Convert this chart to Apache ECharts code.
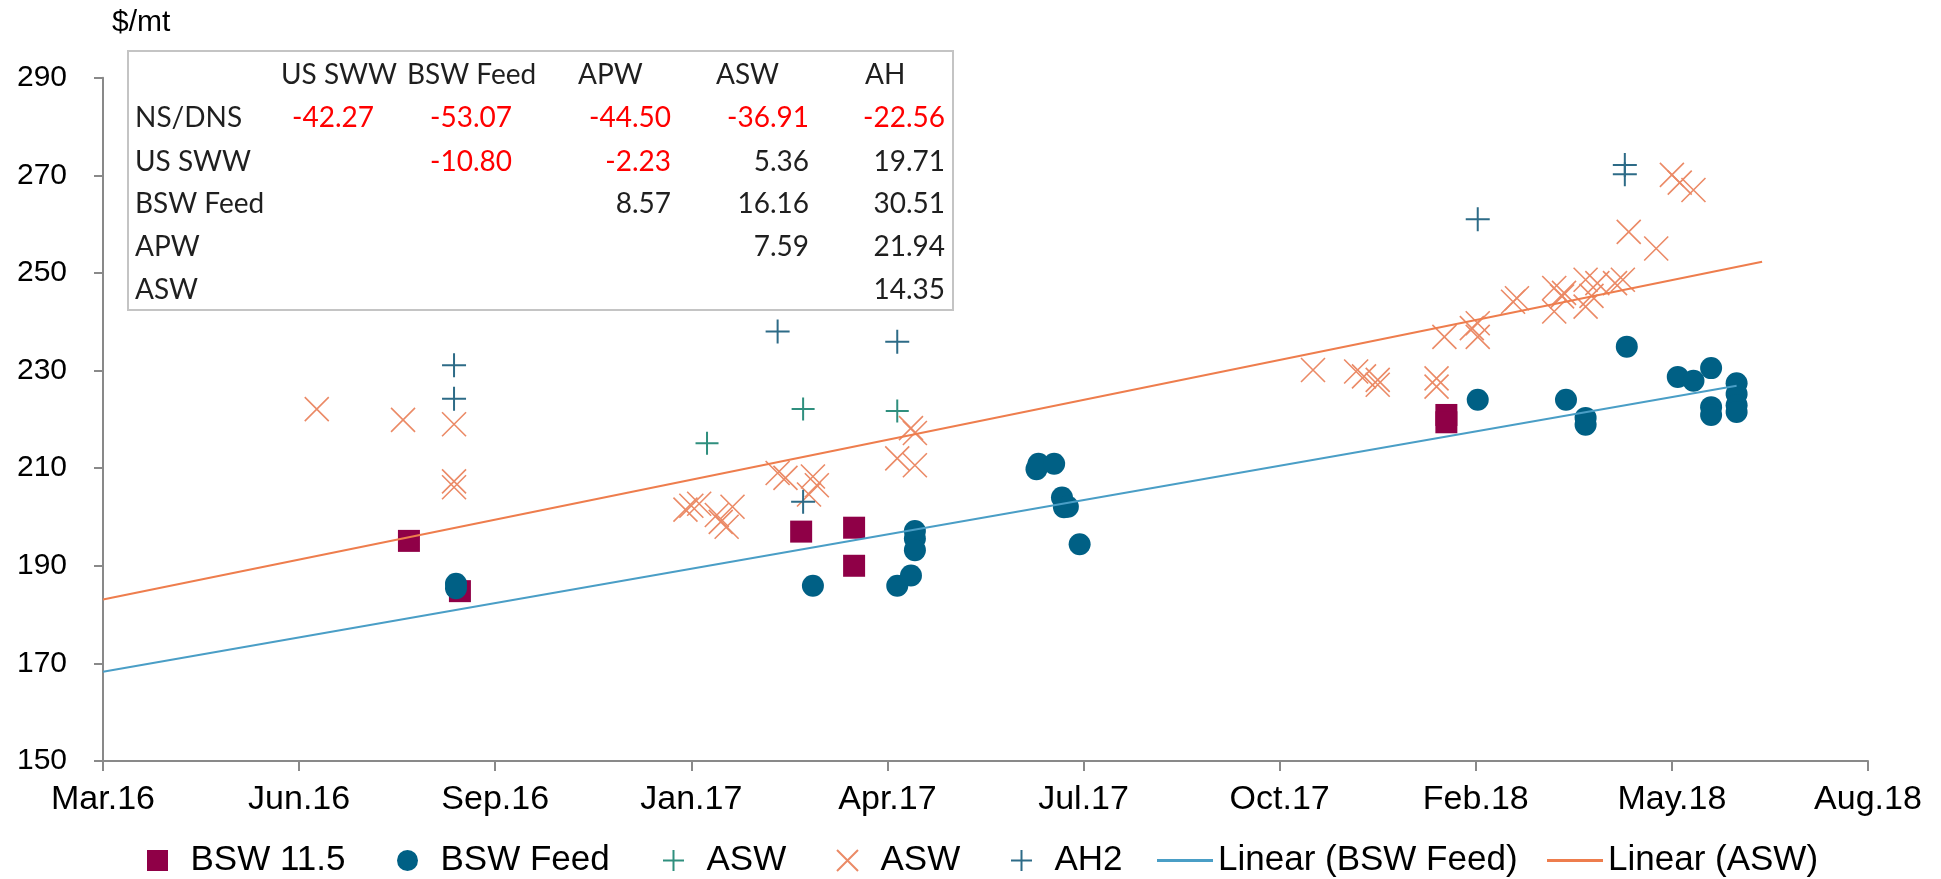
<!DOCTYPE html>
<html>
<head>
<meta charset="utf-8">
<script src="https://cdn.jsdelivr.net/npm/echarts@6/dist/echarts.min.js"></script>
<style>
  html, body { margin: 0; padding: 0; background: #fff; }
  #chart { width: 1941px; height: 879px; }
</style>
</head>
<body>
<div id="chart"></div>
<script>
// x values are days counted from the first axis tick (~10 Mar 2016), ticks every 100 days
var xTickLabels = ['Mar.16', 'Jun.16', 'Sep.16', 'Jan.17', 'Apr.17', 'Jul.17', 'Oct.17', 'Feb.18', 'May.18', 'Aug.18'];

var bsw115 = [[156, 195.1], [182, 184.8], [356, 197.0], [383, 197.8], [383, 190.0], [685, 220.9], [685, 219.4]];

var bswFeed = [
  [180, 186.3], [180, 185.4], [362, 185.9], [405, 185.9], [412, 188.0],
  [414, 197.1], [414, 195.6], [414, 193.2],
  [476, 209.8], [477, 210.9], [485, 210.9], [489, 204.0], [490, 202.0], [492, 202.1], [498, 194.4],
  [701, 224.0], [746, 224.0], [756, 220.3], [756, 218.9], [777, 234.9],
  [803, 228.7], [811, 227.9], [820, 230.5], [820, 222.5], [820, 220.9],
  [833, 227.4], [833, 225.2], [833, 222.9], [833, 221.5]
];

var aswPlus = [[308, 215.1], [357, 222.1], [405, 221.7]];

var aswCross = [
  [109, 222.1], [153, 219.9], [179, 219.0], [179, 207.3], [179, 206.1],
  [297, 201.5], [300, 202.3], [304, 202.7], [313, 200.4], [315, 199.0], [318, 198.0], [321, 202.1],
  [344, 209.0], [348, 208.0], [360, 204.6], [362, 208.3], [364, 206.5],
  [405, 212.0], [412, 218.2], [414, 217.2], [414, 210.6],
  [617, 230.1], [639, 229.8], [643, 228.8], [650, 228.1], [650, 227.1], [680, 228.4], [680, 226.7],
  [684, 236.9], [698, 238.7], [701, 239.7], [701, 236.9],
  [719, 244.1], [721, 244.8], [740, 246.9], [740, 242.1], [744, 245.2], [745, 245.9],
  [756, 248.6], [756, 243.1], [759, 245.3], [762, 247.9], [771, 247.9], [775, 248.6],
  [778, 258.4], [792, 255.0], [800, 270.1], [804, 268.5], [811, 267.0]
];

var ah2 = [[179, 231.1], [179, 224.2], [344, 238.0], [357, 203.1], [405, 235.9], [701, 261.0], [776, 272.1], [776, 270.2]];

var trendFeed = [[0, 168.3], [833, 226.9]];
var trendAsw = [[0, 183.1], [846, 252.3]];

// spread table
var tableCols = ['US SWW', 'BSW Feed', 'APW', 'ASW', 'AH'];
var tableRows = ['NS/DNS', 'US SWW', 'BSW Feed', 'APW', 'ASW'];
var tableValues = [
  ['-42.27', '-53.07', '-44.50', '-36.91', '-22.56'],
  [null, '-10.80', '-2.23', '5.36', '19.71'],
  [null, null, '8.57', '16.16', '30.51'],
  [null, null, null, '7.59', '21.94'],
  [null, null, null, null, '14.35']
];

var plusPath = 'path://M0,5L10,5M5,0L5,10';
var crossPath = 'path://M0,0L10,10M10,0L0,10';
var squarePath = 'path://M0,0L10,0L10,10L0,10Z';

var axisFont = 'Liberation Sans';
var tableFont = 'Lato';

// table layout
var colHeadX = [281, 407, 578, 716, 865];
var colRightX = [374, 512, 671, 809, 945];
var rowY = [75, 118, 162, 204, 247, 290];
var rowLabelX = 135;

var graphics = [
  {type: 'text', left: 112, top: 8, style: {text: '$/mt', fontSize: 30, fontFamily: axisFont, fill: '#000'}},
  {type: 'rect', z: 50, shape: {x: 128, y: 51, width: 825, height: 259},
   style: {fill: '#fff', stroke: '#c4c4c4', lineWidth: 2}}
];
for (var c = 0; c < tableCols.length; c++) {
  graphics.push({type: 'text', z: 51, x: colHeadX[c], y: rowY[0],
    style: {text: tableCols[c], fontSize: 28, fontFamily: tableFont, fill: '#1f1f1f', align: 'left', verticalAlign: 'middle'}});
}
for (var r = 0; r < tableRows.length; r++) {
  graphics.push({type: 'text', z: 51, x: rowLabelX, y: rowY[r + 1],
    style: {text: tableRows[r], fontSize: 28, fontFamily: tableFont, fill: '#1f1f1f', align: 'left', verticalAlign: 'middle'}});
  for (var c = 0; c < tableCols.length; c++) {
    var v = tableValues[r][c];
    if (v === null) continue;
    graphics.push({type: 'text', z: 51, x: colRightX[c], y: rowY[r + 1],
      style: {text: v, fontSize: 28, fontFamily: tableFont, fill: parseFloat(v) < 0 ? '#ff0000' : '#1f1f1f',
        align: 'right', verticalAlign: 'middle'}});
  }
}

// one legend per entry so each sits where Excel put it
var legendNames = ['BSW 11.5', 'BSW Feed', 'ASW', 'ASW x', 'AH2', 'Linear (BSW Feed)', 'Linear (ASW)'];
var legendLeft = [147, 397, 662, 836, 1010, 1157, 1547];
var legends = [];
for (var i = 0; i < legendNames.length; i++) {
  var isLine = i >= 5;
  var item = {name: legendNames[i]};
  if (i === 0) item.icon = squarePath;
  if (isLine) item.icon = 'rect';
  legends.push({
    left: legendLeft[i], top: 843, padding: 0,
    itemWidth: 56, itemHeight: isLine ? 3 : 21, itemGap: 0,
    textStyle: {fontSize: 35, fontFamily: axisFont, color: '#000'},
    formatter: function(name) { return name === 'ASW x' ? 'ASW' : name; },
    data: [item]
  });
}

var chart = echarts.init(document.getElementById('chart'));
var option = {
  animation: false,
  backgroundColor: '#fff',
  grid: {left: 103, right: 73, top: 77.7, bottom: 118, outerBoundsMode: 'none'},
  legend: legends,
  xAxis: {
    type: 'value', min: 0, max: 900, interval: 100,
    axisLine: {show: true, onZero: false, lineStyle: {color: '#898989', width: 2}},
    axisTick: {show: true, length: 10, lineStyle: {color: '#898989', width: 2}},
    splitLine: {show: false},
    axisLabel: {margin: 22, fontSize: 34, fontFamily: axisFont, color: '#000',
      formatter: function(v) { return xTickLabels[Math.round(v / 100)]; }}
  },
  yAxis: {
    type: 'value', min: 150, max: 290, interval: 20,
    axisLine: {show: true, onZero: false, lineStyle: {color: '#898989', width: 2}},
    axisTick: {show: true, length: 9, lineStyle: {color: '#898989', width: 2}},
    splitLine: {show: false},
    axisLabel: {margin: 36, fontSize: 30, fontFamily: axisFont, color: '#000'}
  },
  graphic: graphics,
  series: [
    {name: 'BSW 11.5', type: 'scatter', symbol: 'rect', symbolSize: 22, data: bsw115,
     itemStyle: {color: '#8f0047', opacity: 1}},
    {name: 'BSW Feed', type: 'scatter', symbol: 'circle', symbolSize: 22, data: bswFeed,
     itemStyle: {color: '#006085', opacity: 1}},
    {name: 'ASW', type: 'scatter', symbol: plusPath, symbolSize: 23, data: aswPlus,
     itemStyle: {color: 'rgba(0,0,0,0)', borderColor: '#2f8f7e', borderWidth: 2, opacity: 1}},
    {name: 'ASW x', type: 'scatter', symbol: crossPath, symbolSize: 24, data: aswCross,
     itemStyle: {color: 'rgba(0,0,0,0)', borderColor: '#eb8a66', borderWidth: 1.6, opacity: 1}},
    {name: 'AH2', type: 'scatter', symbol: plusPath, symbolSize: 24, data: ah2,
     itemStyle: {color: 'rgba(0,0,0,0)', borderColor: '#2d6b87', borderWidth: 2, opacity: 1}},
    {name: 'Linear (BSW Feed)', type: 'line', symbol: 'none', data: trendFeed,
     itemStyle: {color: '#4a9ec6'}, lineStyle: {color: '#4a9ec6', width: 2}},
    {name: 'Linear (ASW)', type: 'line', symbol: 'none', data: trendAsw,
     itemStyle: {color: '#ee7d4d'}, lineStyle: {color: '#ee7d4d', width: 2}}
  ]
};
chart.setOption(option);
</script>
</body>
</html>
